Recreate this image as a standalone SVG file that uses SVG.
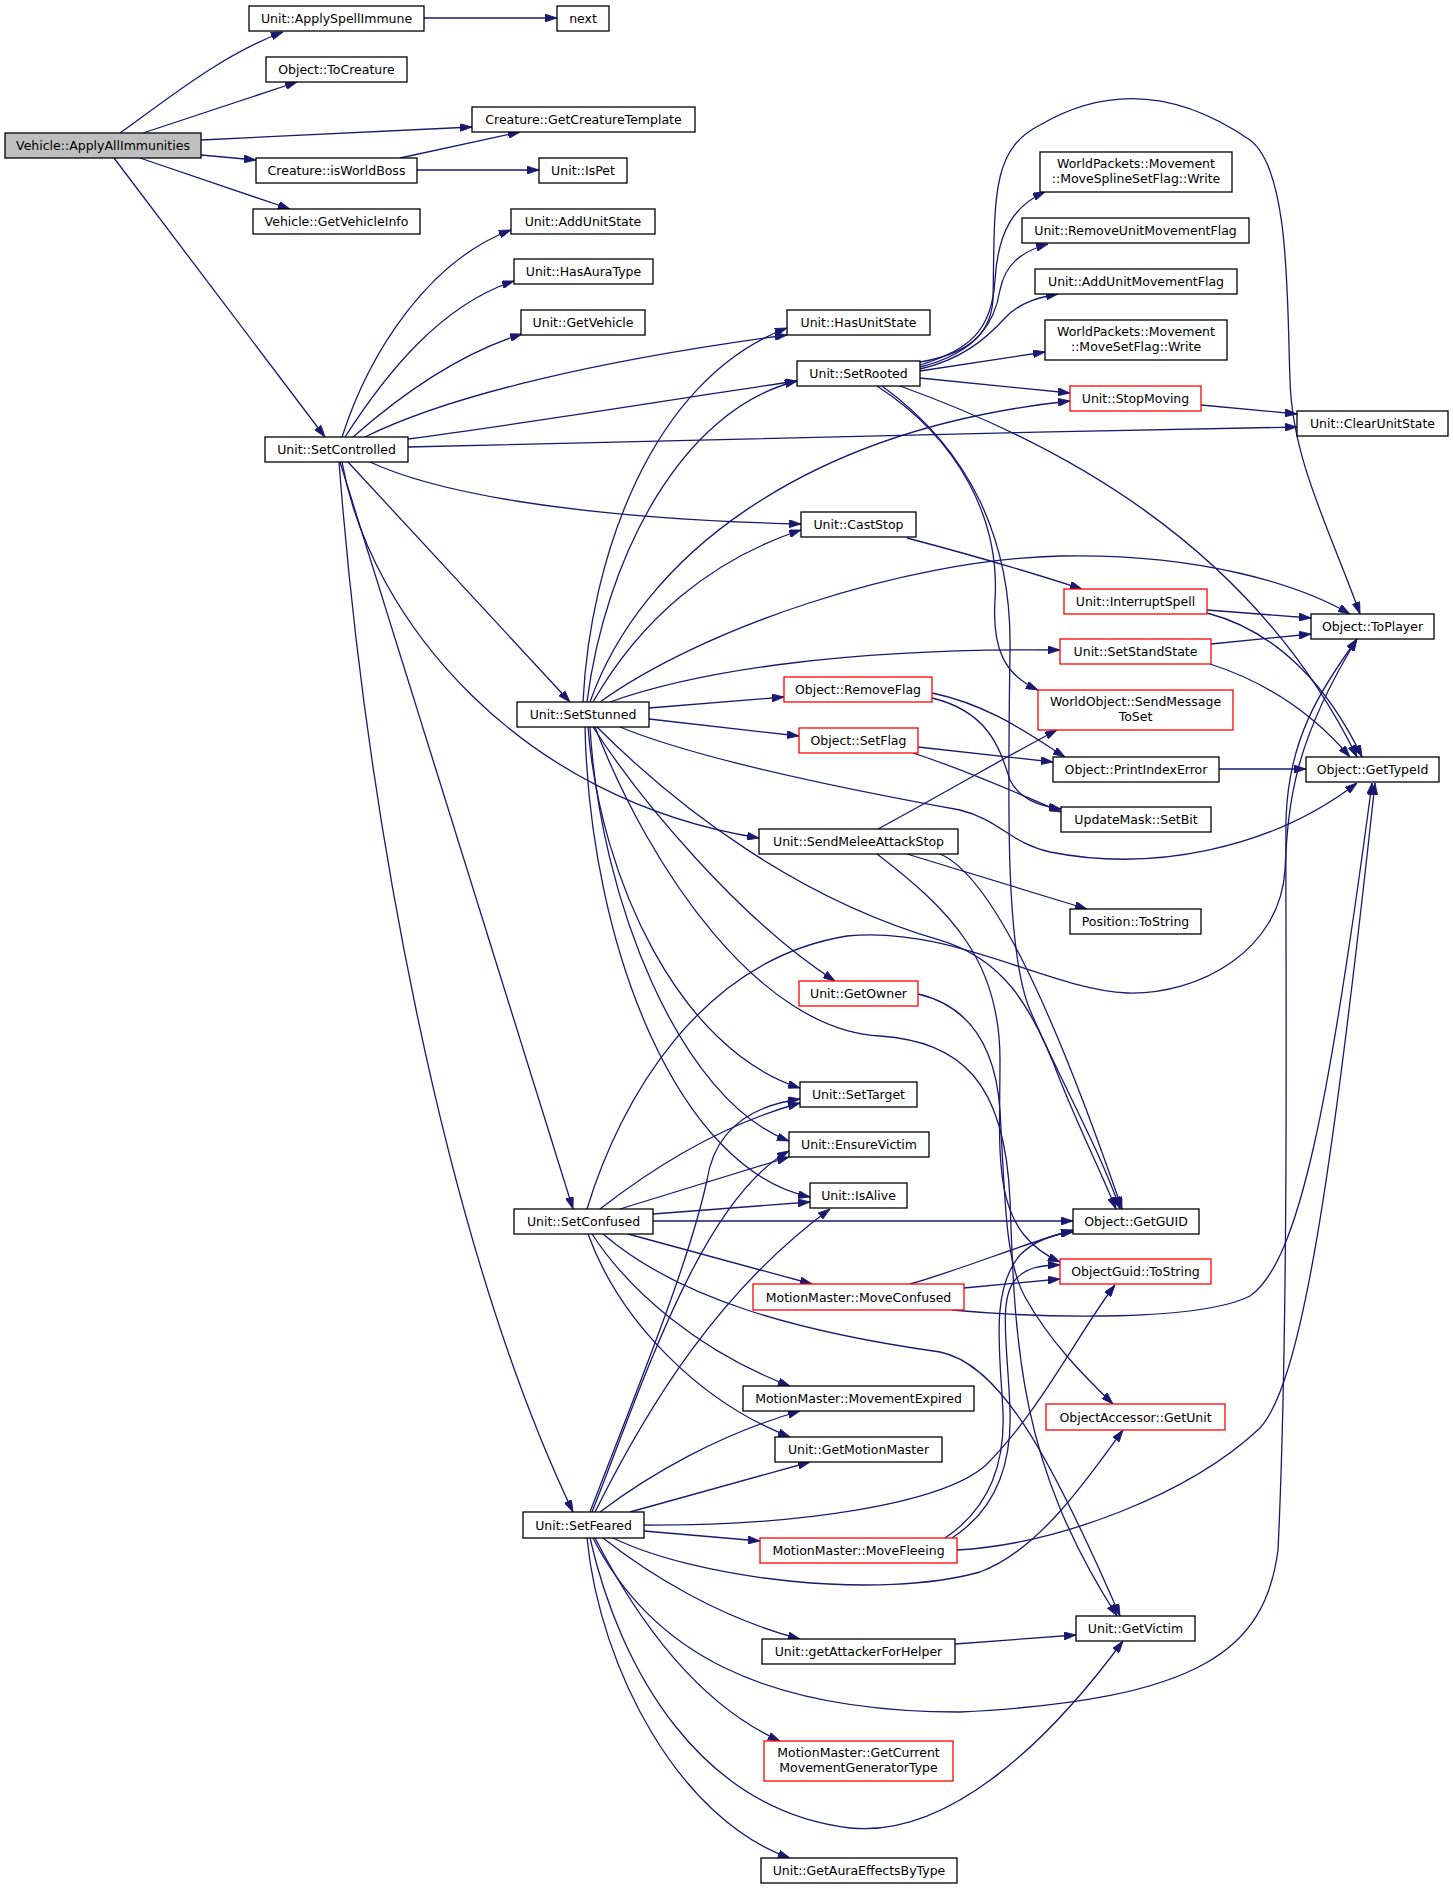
<svg xmlns="http://www.w3.org/2000/svg" width="1453" height="1889" viewBox="0 0 1453 1889">
<style>
.n rect{fill:#fff;stroke:#000;stroke-width:1.3}
.r rect{fill:#fff;stroke:#f00;stroke-width:1.3}
.g rect{fill:#bfbfbf;stroke:#000;stroke-width:1.3}
text{font-family:"DejaVu Sans","Liberation Sans",sans-serif;font-size:12.5px;fill:#000;text-anchor:middle}
#edges path{fill:none;stroke:#191970;stroke-width:1.3;marker-end:url(#ah)}
</style>
<defs>
<marker id="ah" viewBox="0 0 12 8" refX="12" refY="4" markerWidth="12" markerHeight="8" markerUnits="userSpaceOnUse" orient="auto">
<path d="M0,0 L12,4 L0,8 z" fill="#191970" stroke="#191970" stroke-width="0.8"/>
</marker>
</defs>
<rect width="1453" height="1889" fill="#fff"/>
<g id="edges">
<path d="M120,133 C160,105 220,55 283,32"/>
<path d="M143,133 L297,82"/>
<path d="M201,140 L472,127"/>
<path d="M201,155 L256,160"/>
<path d="M140,158 L290,209"/>
<path d="M114,158 L325,437"/>
<path d="M424,18 L557,18"/>
<path d="M400,158 L520,132"/>
<path d="M417,170 L539,170"/>
<path d="M342,437 C370,350 430,260 511,230"/>
<path d="M345,437 C385,375 440,305 514,281"/>
<path d="M353,437 C395,400 455,355 522,334"/>
<path d="M365,437 C450,395 600,360 787,335"/>
<path d="M408,439 C550,420 700,395 797,381"/>
<path d="M408,447 C700,441 1000,432 1297,427"/>
<path d="M370,462 C430,490 560,518 801,524"/>
<path d="M348,462 L570,702"/>
<path d="M342,462 C370,620 520,800 759,838"/>
<path d="M340,462 L573,1209"/>
<path d="M339,462 C365,800 440,1232 573,1512"/>
<path d="M583,702 C590,560 650,380 787,328"/>
<path d="M587,702 C605,560 680,410 797,381"/>
<path d="M590,702 C640,560 800,430 1070,401"/>
<path d="M593,702 C640,620 710,560 801,530"/>
<path d="M600,702 C700,630 900,560 1060,556 C1200,553 1300,585 1350,614"/>
<path d="M610,702 C700,670 850,648 1060,650"/>
<path d="M649,708 L784,697"/>
<path d="M649,719 L799,736"/>
<path d="M620,727 C700,760 850,790 960,810 C1000,820 1010,843 1050,852 C1150,872 1270,850 1357,783"/>
<path d="M593,727 C640,800 740,920 835,981"/>
<path d="M597,727 C680,810 800,900 940,940 C1000,958 1030,1000 1060,1080 C1080,1130 1100,1170 1116,1209"/>
<path d="M595,727 C650,870 760,1030 880,1036 C960,1042 1005,1080 1010,1200 C1015,1350 1020,1465 1117,1616"/>
<path d="M588,727 C600,880 680,1050 800,1088"/>
<path d="M590,727 C600,900 680,1100 789,1141"/>
<path d="M585,727 C590,950 680,1170 810,1197"/>
<path d="M920,365 C970,350 992,330 995,280 C998,230 1015,205 1045,192"/>
<path d="M920,367 C980,352 995,320 1000,290 C1005,265 1020,252 1048,244"/>
<path d="M920,369 C960,360 985,340 1005,318 C1020,302 1040,297 1058,294"/>
<path d="M920,371 L1045,352"/>
<path d="M920,378 L1070,393"/>
<path d="M920,362 C960,355 990,340 993,300 C995,200 990,150 1040,125 C1100,90 1170,85 1250,140 C1290,170 1287,300 1290,380 C1292,460 1330,530 1360,614"/>
<path d="M900,386 C1050,440 1250,540 1357,757"/>
<path d="M877,386 C960,440 1000,520 995,600 C992,650 1005,675 1038,690"/>
<path d="M882,386 C970,450 1012,540 1010,650 C1008,800 1005,950 1030,1010 C1060,1080 1100,1150 1120,1209"/>
<path d="M907,538 C960,552 1030,572 1082,589"/>
<path d="M878,829 C950,790 1000,760 1057,730"/>
<path d="M907,854 L1087,909"/>
<path d="M940,854 C990,875 1050,1000 1122,1209"/>
<path d="M877,854 C950,910 1000,960 1000,1060 C1000,1160 990,1230 1060,1262"/>
<path d="M918,994 C965,1005 995,1040 1000,1110 C1005,1200 1005,1260 1025,1297 C1050,1342 1085,1377 1113,1404"/>
<path d="M587,1209 C620,1100 700,960 847,936 C950,925 1050,990 1127,993 C1200,995 1280,950 1285,870 C1288,800 1295,740 1357,639"/>
<path d="M600,1209 C650,1170 720,1125 800,1103"/>
<path d="M620,1209 L789,1157"/>
<path d="M653,1214 L810,1202"/>
<path d="M653,1221 L1073,1221"/>
<path d="M628,1234 L812,1284"/>
<path d="M603,1234 C680,1300 800,1332 940,1352 C1000,1364 1050,1455 1120,1616"/>
<path d="M592,1234 C630,1292 700,1352 790,1386"/>
<path d="M588,1234 C620,1322 700,1402 790,1437"/>
<path d="M910,1284 C960,1270 1020,1245 1073,1230"/>
<path d="M964,1288 L1060,1279"/>
<path d="M952,1310 C1050,1319 1200,1321 1250,1296 C1300,1261 1330,1100 1372,783"/>
<path d="M945,1538 C990,1508 1005,1462 1003,1412 C1000,1352 990,1290 1020,1255 C1035,1240 1055,1234 1073,1232"/>
<path d="M952,1538 C995,1510 1012,1465 1010,1410 C1008,1350 998,1300 1015,1280 C1025,1268 1040,1265 1060,1265"/>
<path d="M957,1550 C1060,1544 1190,1494 1260,1428 C1300,1384 1330,1200 1375,783"/>
<path d="M590,1512 C640,1382 690,1260 707,1180 C715,1130 750,1106 800,1099"/>
<path d="M592,1512 C640,1392 700,1200 789,1151"/>
<path d="M595,1512 C650,1402 720,1290 830,1209"/>
<path d="M600,1512 C650,1474 720,1434 800,1411"/>
<path d="M630,1512 L810,1462"/>
<path d="M644,1525 C800,1526 940,1504 985,1466 C1040,1412 1080,1330 1115,1285"/>
<path d="M644,1531 L760,1541"/>
<path d="M613,1538 C700,1580 880,1600 980,1572 C1040,1550 1090,1475 1123,1430"/>
<path d="M603,1538 C650,1575 720,1618 800,1639"/>
<path d="M593,1538 C650,1650 760,1712 960,1712 C1200,1700 1265,1650 1278,1550 C1290,1300 1285,900 1286,820 C1288,740 1320,690 1357,639"/>
<path d="M595,1538 C640,1625 700,1705 780,1741"/>
<path d="M590,1538 C620,1670 700,1810 850,1828 C950,1838 1050,1740 1123,1641"/>
<path d="M587,1538 C600,1670 680,1820 790,1858"/>
<path d="M955,1644 L1076,1635"/>
<path d="M1207,610 L1311,618"/>
<path d="M1207,613 C1280,632 1330,690 1362,757"/>
<path d="M1211,644 L1311,634"/>
<path d="M1210,664 C1260,680 1310,710 1350,757"/>
<path d="M1201,405 L1297,414"/>
<path d="M932,693 C990,705 1030,735 1065,757"/>
<path d="M932,698 C990,712 1000,750 1010,780 C1020,800 1040,806 1061,809"/>
<path d="M918,747 L1053,762"/>
<path d="M913,753 C950,765 1000,785 1061,812"/>
<path d="M1219,769 L1306,769"/>
</g>
<g id="n_vehicle" class="g"><rect x="5" y="133" width="196" height="25"/><text x="103" y="150">Vehicle::ApplyAllImmunities</text></g>
<g id="n_applyspell" class="n"><rect x="249" y="6" width="175" height="25"/><text x="336.5" y="23">Unit::ApplySpellImmune</text></g>
<g id="n_tocreature" class="n"><rect x="266" y="57" width="141" height="25"/><text x="336.5" y="74">Object::ToCreature</text></g>
<g id="n_getcreaturetemplate" class="n"><rect x="472" y="107" width="223" height="25"/><text x="583.5" y="124">Creature::GetCreatureTemplate</text></g>
<g id="n_isworldboss" class="n"><rect x="256" y="158" width="161" height="25"/><text x="336.5" y="175">Creature::isWorldBoss</text></g>
<g id="n_getvehicleinfo" class="n"><rect x="253" y="209" width="167" height="25"/><text x="336.5" y="226">Vehicle::GetVehicleInfo</text></g>
<g id="n_setcontrolled" class="n"><rect x="265" y="437" width="143" height="25"/><text x="336.5" y="454">Unit::SetControlled</text></g>
<g id="n_next" class="n"><rect x="557" y="6" width="52" height="25"/><text x="583" y="23">next</text></g>
<g id="n_ispet" class="n"><rect x="539" y="158" width="88" height="25"/><text x="583" y="175">Unit::IsPet</text></g>
<g id="n_addunitstate" class="n"><rect x="511" y="209" width="144" height="25"/><text x="583" y="226">Unit::AddUnitState</text></g>
<g id="n_hasauratype" class="n"><rect x="514" y="259" width="139" height="25"/><text x="583.5" y="276">Unit::HasAuraType</text></g>
<g id="n_getvehicle" class="n"><rect x="521" y="310" width="124" height="25"/><text x="583" y="327">Unit::GetVehicle</text></g>
<g id="n_setstunned" class="n"><rect x="517" y="702" width="132" height="25"/><text x="583" y="719">Unit::SetStunned</text></g>
<g id="n_setconfused" class="n"><rect x="514" y="1209" width="139" height="25"/><text x="583.5" y="1226">Unit::SetConfused</text></g>
<g id="n_setfeared" class="n"><rect x="523" y="1512" width="121" height="26"/><text x="583.5" y="1529.5">Unit::SetFeared</text></g>
<g id="n_hasunitstate" class="n"><rect x="787" y="310" width="143" height="25"/><text x="858.5" y="327">Unit::HasUnitState</text></g>
<g id="n_setrooted" class="n"><rect x="797" y="361" width="123" height="25"/><text x="858.5" y="378">Unit::SetRooted</text></g>
<g id="n_caststop" class="n"><rect x="801" y="512" width="115" height="25"/><text x="858.5" y="529">Unit::CastStop</text></g>
<g id="n_removeflag" class="r"><rect x="784" y="677" width="148" height="25"/><text x="858" y="694">Object::RemoveFlag</text></g>
<g id="n_setflag" class="r"><rect x="799" y="728" width="119" height="25"/><text x="858.5" y="745">Object::SetFlag</text></g>
<g id="n_sendmelee" class="n"><rect x="759" y="829" width="199" height="25"/><text x="858.5" y="846">Unit::SendMeleeAttackStop</text></g>
<g id="n_getowner" class="r"><rect x="799" y="981" width="119" height="25"/><text x="858.5" y="998">Unit::GetOwner</text></g>
<g id="n_settarget" class="n"><rect x="800" y="1082" width="117" height="25"/><text x="858.5" y="1099">Unit::SetTarget</text></g>
<g id="n_ensurevictim" class="n"><rect x="789" y="1132" width="140" height="25"/><text x="859" y="1149">Unit::EnsureVictim</text></g>
<g id="n_isalive" class="n"><rect x="810" y="1183" width="97" height="25"/><text x="858.5" y="1200">Unit::IsAlive</text></g>
<g id="n_moveconfused" class="r"><rect x="753" y="1284" width="211" height="26"/><text x="858.5" y="1301.5">MotionMaster::MoveConfused</text></g>
<g id="n_movementexpired" class="n"><rect x="743" y="1386" width="231" height="25"/><text x="858.5" y="1403">MotionMaster::MovementExpired</text></g>
<g id="n_getmotionmaster" class="n"><rect x="775" y="1437" width="167" height="25"/><text x="858.5" y="1454">Unit::GetMotionMaster</text></g>
<g id="n_movefleeing" class="r"><rect x="760" y="1538" width="197" height="25"/><text x="858.5" y="1555">MotionMaster::MoveFleeing</text></g>
<g id="n_getattacker" class="n"><rect x="762" y="1639" width="193" height="25"/><text x="858.5" y="1656">Unit::getAttackerForHelper</text></g>
<g id="n_getcurrent" class="r"><rect x="764" y="1741" width="189" height="40"/><text x="858.5" y="1757">MotionMaster::GetCurrent</text><text x="858.5" y="1772">MovementGeneratorType</text></g>
<g id="n_getaura" class="n"><rect x="761" y="1858" width="196" height="25"/><text x="859" y="1875">Unit::GetAuraEffectsByType</text></g>
<g id="n_movesplinewrite" class="n"><rect x="1040" y="152" width="192" height="40"/><text x="1136" y="168">WorldPackets::Movement</text><text x="1136" y="183">::MoveSplineSetFlag::Write</text></g>
<g id="n_removeunitmovflag" class="n"><rect x="1022" y="218" width="227" height="25"/><text x="1135.5" y="235">Unit::RemoveUnitMovementFlag</text></g>
<g id="n_addunitmovflag" class="n"><rect x="1035" y="269" width="202" height="25"/><text x="1136" y="286">Unit::AddUnitMovementFlag</text></g>
<g id="n_movesetflagwrite" class="n"><rect x="1045" y="320" width="182" height="40"/><text x="1136" y="336">WorldPackets::Movement</text><text x="1136" y="351">::MoveSetFlag::Write</text></g>
<g id="n_stopmoving" class="r"><rect x="1070" y="386" width="131" height="25"/><text x="1135.5" y="403">Unit::StopMoving</text></g>
<g id="n_interruptspell" class="r"><rect x="1064" y="589" width="143" height="25"/><text x="1135.5" y="606">Unit::InterruptSpell</text></g>
<g id="n_setstandstate" class="r"><rect x="1060" y="639" width="151" height="25"/><text x="1135.5" y="656">Unit::SetStandState</text></g>
<g id="n_sendmessage" class="r"><rect x="1038" y="690" width="195" height="40"/><text x="1135.5" y="706">WorldObject::SendMessage</text><text x="1135.5" y="721">ToSet</text></g>
<g id="n_printindex" class="n"><rect x="1053" y="757" width="166" height="25"/><text x="1136" y="774">Object::PrintIndexError</text></g>
<g id="n_setbit" class="n"><rect x="1061" y="807" width="150" height="25"/><text x="1136" y="824">UpdateMask::SetBit</text></g>
<g id="n_postostring" class="n"><rect x="1070" y="909" width="131" height="25"/><text x="1135.5" y="926">Position::ToString</text></g>
<g id="n_getguid" class="n"><rect x="1073" y="1209" width="126" height="25"/><text x="1136" y="1226">Object::GetGUID</text></g>
<g id="n_guidtostring" class="r"><rect x="1060" y="1259" width="151" height="25"/><text x="1135.5" y="1276">ObjectGuid::ToString</text></g>
<g id="n_getunit" class="r"><rect x="1046" y="1404" width="179" height="26"/><text x="1135.5" y="1421.5">ObjectAccessor::GetUnit</text></g>
<g id="n_getvictim" class="n"><rect x="1076" y="1616" width="119" height="25"/><text x="1135.5" y="1633">Unit::GetVictim</text></g>
<g id="n_clearunitstate" class="n"><rect x="1297" y="411" width="151" height="25"/><text x="1372.5" y="428">Unit::ClearUnitState</text></g>
<g id="n_toplayer" class="n"><rect x="1311" y="614" width="123" height="25"/><text x="1372.5" y="631">Object::ToPlayer</text></g>
<g id="n_gettypeid" class="n"><rect x="1306" y="757" width="133" height="25"/><text x="1372.5" y="774">Object::GetTypeId</text></g>
</svg>
